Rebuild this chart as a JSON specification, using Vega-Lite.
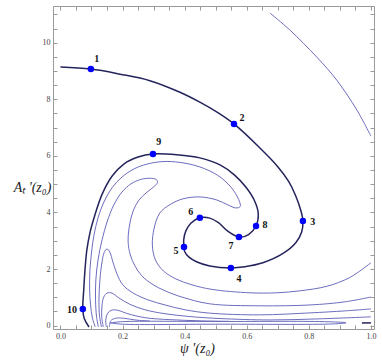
{
  "$schema": "https://vega.github.io/schema/vega-lite/v6.json",
  "width": 321,
  "height": 323,
  "autosize": "none",
  "padding": {"left": 53, "top": 6, "right": 8, "bottom": 34},
  "background": "white",
  "config": {
    "view": {"stroke": "#9a9a9a", "strokeWidth": 1},
    "axis": {
      "domain": false,
      "grid": false,
      "tickColor": "#9a9a9a",
      "tickSize": -4,
      "labelPadding": 7,
      "labelFont": "Liberation Serif",
      "labelFontSize": 8,
      "labelColor": "#444444",
      "titleFont": "Liberation Serif",
      "titleFontStyle": "italic",
      "titleFontWeight": "normal",
      "titleFontSize": 14,
      "titleColor": "#222222"
    }
  },
  "datasets": {
    "curves": [
      {"id": "D", "kind": "main", "x": 0.000, "y": 9.14},
      {"id": "D", "kind": "main", "x": 0.098, "y": 9.07},
      {"id": "D", "kind": "main", "x": 0.192, "y": 8.89},
      {"id": "D", "kind": "main", "x": 0.288, "y": 8.66},
      {"id": "D", "kind": "main", "x": 0.385, "y": 8.25},
      {"id": "D", "kind": "main", "x": 0.449, "y": 7.90},
      {"id": "D", "kind": "main", "x": 0.507, "y": 7.53},
      {"id": "D", "kind": "main", "x": 0.559, "y": 7.13},
      {"id": "D", "kind": "main", "x": 0.636, "y": 6.35},
      {"id": "D", "kind": "main", "x": 0.700, "y": 5.62},
      {"id": "D", "kind": "main", "x": 0.735, "y": 5.10},
      {"id": "D", "kind": "main", "x": 0.757, "y": 4.61},
      {"id": "D", "kind": "main", "x": 0.774, "y": 4.08},
      {"id": "D", "kind": "main", "x": 0.781, "y": 3.70},
      {"id": "D", "kind": "main", "x": 0.777, "y": 3.31},
      {"id": "D", "kind": "main", "x": 0.758, "y": 2.93},
      {"id": "D", "kind": "main", "x": 0.717, "y": 2.55},
      {"id": "D", "kind": "main", "x": 0.652, "y": 2.22},
      {"id": "D", "kind": "main", "x": 0.594, "y": 2.08},
      {"id": "D", "kind": "main", "x": 0.549, "y": 2.04},
      {"id": "D", "kind": "main", "x": 0.481, "y": 2.11},
      {"id": "D", "kind": "main", "x": 0.440, "y": 2.25},
      {"id": "D", "kind": "main", "x": 0.414, "y": 2.42},
      {"id": "D", "kind": "main", "x": 0.400, "y": 2.62},
      {"id": "D", "kind": "main", "x": 0.398, "y": 2.78},
      {"id": "D", "kind": "main", "x": 0.397, "y": 3.03},
      {"id": "D", "kind": "main", "x": 0.404, "y": 3.35},
      {"id": "D", "kind": "main", "x": 0.420, "y": 3.62},
      {"id": "D", "kind": "main", "x": 0.449, "y": 3.81},
      {"id": "D", "kind": "main", "x": 0.481, "y": 3.80},
      {"id": "D", "kind": "main", "x": 0.509, "y": 3.64},
      {"id": "D", "kind": "main", "x": 0.540, "y": 3.33},
      {"id": "D", "kind": "main", "x": 0.575, "y": 3.13},
      {"id": "D", "kind": "main", "x": 0.606, "y": 3.22},
      {"id": "D", "kind": "main", "x": 0.630, "y": 3.52},
      {"id": "D", "kind": "main", "x": 0.637, "y": 3.98},
      {"id": "D", "kind": "main", "x": 0.624, "y": 4.44},
      {"id": "D", "kind": "main", "x": 0.597, "y": 4.90},
      {"id": "D", "kind": "main", "x": 0.560, "y": 5.33},
      {"id": "D", "kind": "main", "x": 0.514, "y": 5.68},
      {"id": "D", "kind": "main", "x": 0.449, "y": 5.93},
      {"id": "D", "kind": "main", "x": 0.375, "y": 6.04},
      {"id": "D", "kind": "main", "x": 0.298, "y": 6.07},
      {"id": "D", "kind": "main", "x": 0.250, "y": 5.96},
      {"id": "D", "kind": "main", "x": 0.205, "y": 5.72},
      {"id": "D", "kind": "main", "x": 0.166, "y": 5.28},
      {"id": "D", "kind": "main", "x": 0.134, "y": 4.64},
      {"id": "D", "kind": "main", "x": 0.111, "y": 3.91},
      {"id": "D", "kind": "main", "x": 0.095, "y": 3.28},
      {"id": "D", "kind": "main", "x": 0.085, "y": 2.67},
      {"id": "D", "kind": "main", "x": 0.079, "y": 1.97},
      {"id": "D", "kind": "main", "x": 0.075, "y": 1.26},
      {"id": "D", "kind": "main", "x": 0.072, "y": 0.59},
      {"id": "D", "kind": "main", "x": 0.077, "y": 0.24},
      {"id": "D", "kind": "main", "x": 0.092, "y": -0.05},

      {"id": "E", "kind": "main", "x": 0.971, "y": 0.095},
      {"id": "E", "kind": "main", "x": 1.000, "y": 0.095},

      {"id": "L1", "kind": "other", "x": 0.675, "y": 11.05},
      {"id": "L1", "kind": "other", "x": 0.739, "y": 10.45},
      {"id": "L1", "kind": "other", "x": 0.826, "y": 9.49},
      {"id": "L1", "kind": "other", "x": 0.890, "y": 8.68},
      {"id": "L1", "kind": "other", "x": 0.955, "y": 7.62},
      {"id": "L1", "kind": "other", "x": 1.000, "y": 6.70},

      {"id": "A", "kind": "other", "x": 0.112, "y": -0.05},
      {"id": "A", "kind": "other", "x": 0.103, "y": 0.27},
      {"id": "A", "kind": "other", "x": 0.097, "y": 0.73},
      {"id": "A", "kind": "other", "x": 0.094, "y": 1.26},
      {"id": "A", "kind": "other", "x": 0.095, "y": 1.97},
      {"id": "A", "kind": "other", "x": 0.101, "y": 2.67},
      {"id": "A", "kind": "other", "x": 0.108, "y": 3.20},
      {"id": "A", "kind": "other", "x": 0.121, "y": 3.81},
      {"id": "A", "kind": "other", "x": 0.140, "y": 4.37},
      {"id": "A", "kind": "other", "x": 0.166, "y": 4.87},
      {"id": "A", "kind": "other", "x": 0.198, "y": 5.25},
      {"id": "A", "kind": "other", "x": 0.237, "y": 5.54},
      {"id": "A", "kind": "other", "x": 0.279, "y": 5.71},
      {"id": "A", "kind": "other", "x": 0.330, "y": 5.80},
      {"id": "A", "kind": "other", "x": 0.385, "y": 5.77},
      {"id": "A", "kind": "other", "x": 0.449, "y": 5.61},
      {"id": "A", "kind": "other", "x": 0.507, "y": 5.31},
      {"id": "A", "kind": "other", "x": 0.549, "y": 4.90},
      {"id": "A", "kind": "other", "x": 0.574, "y": 4.46},
      {"id": "A", "kind": "other", "x": 0.579, "y": 4.21},
      {"id": "A", "kind": "other", "x": 0.565, "y": 4.16},
      {"id": "A", "kind": "other", "x": 0.539, "y": 4.27},
      {"id": "A", "kind": "other", "x": 0.504, "y": 4.44},
      {"id": "A", "kind": "other", "x": 0.449, "y": 4.55},
      {"id": "A", "kind": "other", "x": 0.394, "y": 4.48},
      {"id": "A", "kind": "other", "x": 0.353, "y": 4.28},
      {"id": "A", "kind": "other", "x": 0.320, "y": 3.98},
      {"id": "A", "kind": "other", "x": 0.302, "y": 3.45},
      {"id": "A", "kind": "other", "x": 0.296, "y": 2.85},
      {"id": "A", "kind": "other", "x": 0.306, "y": 2.32},
      {"id": "A", "kind": "other", "x": 0.332, "y": 1.93},
      {"id": "A", "kind": "other", "x": 0.372, "y": 1.65},
      {"id": "A", "kind": "other", "x": 0.424, "y": 1.44},
      {"id": "A", "kind": "other", "x": 0.488, "y": 1.28},
      {"id": "A", "kind": "other", "x": 0.610, "y": 1.16},
      {"id": "A", "kind": "other", "x": 0.697, "y": 1.16},
      {"id": "A", "kind": "other", "x": 0.771, "y": 1.23},
      {"id": "A", "kind": "other", "x": 0.858, "y": 1.39},
      {"id": "A", "kind": "other", "x": 0.932, "y": 1.70},
      {"id": "A", "kind": "other", "x": 1.000, "y": 2.22},

      {"id": "B", "kind": "other", "x": 0.122, "y": -0.05},
      {"id": "B", "kind": "other", "x": 0.116, "y": 0.34},
      {"id": "B", "kind": "other", "x": 0.113, "y": 0.91},
      {"id": "B", "kind": "other", "x": 0.114, "y": 1.61},
      {"id": "B", "kind": "other", "x": 0.121, "y": 2.32},
      {"id": "B", "kind": "other", "x": 0.134, "y": 3.03},
      {"id": "B", "kind": "other", "x": 0.150, "y": 3.66},
      {"id": "B", "kind": "other", "x": 0.172, "y": 4.27},
      {"id": "B", "kind": "other", "x": 0.198, "y": 4.72},
      {"id": "B", "kind": "other", "x": 0.227, "y": 5.01},
      {"id": "B", "kind": "other", "x": 0.259, "y": 5.17},
      {"id": "B", "kind": "other", "x": 0.290, "y": 5.21},
      {"id": "B", "kind": "other", "x": 0.308, "y": 5.17},
      {"id": "B", "kind": "other", "x": 0.313, "y": 5.08},
      {"id": "B", "kind": "other", "x": 0.304, "y": 4.94},
      {"id": "B", "kind": "other", "x": 0.279, "y": 4.72},
      {"id": "B", "kind": "other", "x": 0.253, "y": 4.44},
      {"id": "B", "kind": "other", "x": 0.234, "y": 4.05},
      {"id": "B", "kind": "other", "x": 0.222, "y": 3.52},
      {"id": "B", "kind": "other", "x": 0.218, "y": 2.96},
      {"id": "B", "kind": "other", "x": 0.225, "y": 2.50},
      {"id": "B", "kind": "other", "x": 0.240, "y": 2.11},
      {"id": "B", "kind": "other", "x": 0.262, "y": 1.76},
      {"id": "B", "kind": "other", "x": 0.295, "y": 1.47},
      {"id": "B", "kind": "other", "x": 0.337, "y": 1.23},
      {"id": "B", "kind": "other", "x": 0.391, "y": 1.01},
      {"id": "B", "kind": "other", "x": 0.481, "y": 0.77},
      {"id": "B", "kind": "other", "x": 0.642, "y": 0.70},
      {"id": "B", "kind": "other", "x": 0.804, "y": 0.73},
      {"id": "B", "kind": "other", "x": 0.916, "y": 0.84},
      {"id": "B", "kind": "other", "x": 1.000, "y": 1.01},

      {"id": "P1", "kind": "other", "x": 0.132, "y": -0.05},
      {"id": "P1", "kind": "other", "x": 0.126, "y": 0.34},
      {"id": "P1", "kind": "other", "x": 0.124, "y": 0.91},
      {"id": "P1", "kind": "other", "x": 0.127, "y": 1.61},
      {"id": "P1", "kind": "other", "x": 0.134, "y": 2.25},
      {"id": "P1", "kind": "other", "x": 0.141, "y": 2.59},
      {"id": "P1", "kind": "other", "x": 0.150, "y": 2.71},
      {"id": "P1", "kind": "other", "x": 0.159, "y": 2.60},
      {"id": "P1", "kind": "other", "x": 0.169, "y": 2.25},
      {"id": "P1", "kind": "other", "x": 0.182, "y": 1.83},
      {"id": "P1", "kind": "other", "x": 0.201, "y": 1.44},
      {"id": "P1", "kind": "other", "x": 0.233, "y": 1.16},
      {"id": "P1", "kind": "other", "x": 0.282, "y": 0.91},
      {"id": "P1", "kind": "other", "x": 0.337, "y": 0.73},
      {"id": "P1", "kind": "other", "x": 0.401, "y": 0.56},
      {"id": "P1", "kind": "other", "x": 0.481, "y": 0.44},
      {"id": "P1", "kind": "other", "x": 0.642, "y": 0.38},
      {"id": "P1", "kind": "other", "x": 0.804, "y": 0.45},
      {"id": "P1", "kind": "other", "x": 0.916, "y": 0.52},
      {"id": "P1", "kind": "other", "x": 1.000, "y": 0.59},

      {"id": "P2", "kind": "other", "x": 0.138, "y": -0.05},
      {"id": "P2", "kind": "other", "x": 0.133, "y": 0.30},
      {"id": "P2", "kind": "other", "x": 0.134, "y": 0.73},
      {"id": "P2", "kind": "other", "x": 0.140, "y": 1.02},
      {"id": "P2", "kind": "other", "x": 0.150, "y": 1.15},
      {"id": "P2", "kind": "other", "x": 0.166, "y": 1.15},
      {"id": "P2", "kind": "other", "x": 0.188, "y": 0.98},
      {"id": "P2", "kind": "other", "x": 0.224, "y": 0.75},
      {"id": "P2", "kind": "other", "x": 0.272, "y": 0.56},
      {"id": "P2", "kind": "other", "x": 0.337, "y": 0.42},
      {"id": "P2", "kind": "other", "x": 0.417, "y": 0.32},
      {"id": "P2", "kind": "other", "x": 0.514, "y": 0.25},
      {"id": "P2", "kind": "other", "x": 0.675, "y": 0.20},
      {"id": "P2", "kind": "other", "x": 0.836, "y": 0.24},
      {"id": "P2", "kind": "other", "x": 1.000, "y": 0.31},

      {"id": "P3", "kind": "other", "x": 0.148, "y": -0.05},
      {"id": "P3", "kind": "other", "x": 0.146, "y": 0.20},
      {"id": "P3", "kind": "other", "x": 0.153, "y": 0.45},
      {"id": "P3", "kind": "other", "x": 0.166, "y": 0.55},
      {"id": "P3", "kind": "other", "x": 0.185, "y": 0.54},
      {"id": "P3", "kind": "other", "x": 0.217, "y": 0.42},
      {"id": "P3", "kind": "other", "x": 0.272, "y": 0.28},
      {"id": "P3", "kind": "other", "x": 0.353, "y": 0.21},
      {"id": "P3", "kind": "other", "x": 0.449, "y": 0.17},
      {"id": "P3", "kind": "other", "x": 0.547, "y": 0.15},

      {"id": "P4", "kind": "other", "x": 0.158, "y": -0.05},
      {"id": "P4", "kind": "other", "x": 0.162, "y": 0.17},
      {"id": "P4", "kind": "other", "x": 0.178, "y": 0.26},
      {"id": "P4", "kind": "other", "x": 0.204, "y": 0.26},
      {"id": "P4", "kind": "other", "x": 0.240, "y": 0.20},
      {"id": "P4", "kind": "other", "x": 0.288, "y": 0.16},

      {"id": "Q", "kind": "other", "x": 0.160, "y": 0.095},
      {"id": "Q", "kind": "other", "x": 0.200, "y": 0.14},
      {"id": "Q", "kind": "other", "x": 0.500, "y": 0.145},
      {"id": "Q", "kind": "other", "x": 0.850, "y": 0.14},
      {"id": "Q", "kind": "other", "x": 0.920, "y": 0.10},
      {"id": "Q", "kind": "other", "x": 0.880, "y": 0.06},
      {"id": "Q", "kind": "other", "x": 0.500, "y": 0.05},
      {"id": "Q", "kind": "other", "x": 0.200, "y": 0.05},
      {"id": "Q", "kind": "other", "x": 0.160, "y": 0.095}
    ],
    "points": [
      {"label": "1", "x": 0.098, "y": 9.07, "lx": 0.117, "ly": 9.42},
      {"label": "2", "x": 0.559, "y": 7.13, "lx": 0.585, "ly": 7.34},
      {"label": "3", "x": 0.781, "y": 3.70, "lx": 0.813, "ly": 3.66},
      {"label": "4", "x": 0.549, "y": 2.04, "lx": 0.575, "ly": 1.65},
      {"label": "5", "x": 0.398, "y": 2.78, "lx": 0.372, "ly": 2.64},
      {"label": "6", "x": 0.449, "y": 3.81, "lx": 0.420, "ly": 4.02},
      {"label": "7", "x": 0.575, "y": 3.13, "lx": 0.549, "ly": 2.82},
      {"label": "8", "x": 0.630, "y": 3.52, "lx": 0.659, "ly": 3.56},
      {"label": "9", "x": 0.298, "y": 6.07, "lx": 0.317, "ly": 6.49},
      {"label": "10", "x": 0.072, "y": 0.59, "lx": 0.037, "ly": 0.55}
    ]
  },
  "resolve": {"axis": {"x": "independent", "y": "independent"}},
  "layer": [
    {
      "data": {"name": "curves"},
      "mark": {"type": "line", "interpolate": "catmull-rom", "strokeJoin": "round", "clip": true},
      "encoding": {
        "x": {
          "field": "x", "type": "quantitative",
          "scale": {"domain": [-0.024, 1.01], "nice": false, "zero": false},
          "axis": {
            "orient": "bottom",
            "values": [0, 0.05, 0.1, 0.15, 0.2, 0.25, 0.3, 0.35, 0.4, 0.45, 0.5, 0.55, 0.6, 0.65, 0.7, 0.75, 0.8, 0.85, 0.9, 0.95, 1.0],
            "labelExpr": "abs(round(datum.value*20)) % 4 == 0 ? format(datum.value, '.1f') : ''",
            "title": "ψ '(z₀)",
            "titleX": 144,
            "titleY": 23,
            "titleAlign": "center",
            "titleBaseline": "alphabetic"
          }
        },
        "y": {
          "field": "y", "type": "quantitative",
          "scale": {"domain": [-0.12, 11.3], "nice": false, "zero": false},
          "axis": {
            "orient": "left",
            "values": [0, 0.5, 1, 1.5, 2, 2.5, 3, 3.5, 4, 4.5, 5, 5.5, 6, 6.5, 7, 7.5, 8, 8.5, 9, 9.5, 10, 10.5, 11],
            "labelExpr": "round(datum.value*2) % 4 == 0 ? format(datum.value, 'd') : ''",
            "title": "Aₜ '(z₀)",
            "titleAngle": 0,
            "titleX": -21,
            "titleY": 181,
            "titleAlign": "center",
            "titleBaseline": "middle"
          }
        },
        "detail": {"field": "id"},
        "order": {"value": null},
        "color": {"field": "kind", "type": "nominal", "scale": {"domain": ["main", "other"], "range": ["#24245c", "#6d6dbf"]}, "legend": null},
        "strokeWidth": {"field": "kind", "type": "nominal", "scale": {"domain": ["main", "other"], "range": [1.5, 1]}, "legend": null}
      }
    },
    {
      "data": {"name": "points"},
      "mark": {"type": "point", "filled": true, "size": 42, "color": "#0000ff", "opacity": 1},
      "encoding": {
        "x": {
          "field": "x", "type": "quantitative",
          "scale": {"domain": [-0.024, 1.01], "nice": false, "zero": false},
          "axis": {
            "orient": "top",
            "values": [0, 0.05, 0.1, 0.15, 0.2, 0.25, 0.3, 0.35, 0.4, 0.45, 0.5, 0.55, 0.6, 0.65, 0.7, 0.75, 0.8, 0.85, 0.9, 0.95, 1.0],
            "labels": false,
            "title": null
          }
        },
        "y": {
          "field": "y", "type": "quantitative",
          "scale": {"domain": [-0.12, 11.3], "nice": false, "zero": false},
          "axis": {
            "orient": "right",
            "values": [0, 0.5, 1, 1.5, 2, 2.5, 3, 3.5, 4, 4.5, 5, 5.5, 6, 6.5, 7, 7.5, 8, 8.5, 9, 9.5, 10, 10.5, 11],
            "labels": false,
            "title": null
          }
        }
      }
    },
    {
      "data": {"name": "points"},
      "mark": {"type": "text", "font": "Liberation Serif", "fontWeight": "bold", "fontSize": 10, "color": "#111111", "align": "center", "baseline": "middle"},
      "encoding": {
        "x": {"field": "lx", "type": "quantitative", "scale": {"domain": [-0.024, 1.01], "nice": false, "zero": false}, "axis": null},
        "y": {"field": "ly", "type": "quantitative", "scale": {"domain": [-0.12, 11.3], "nice": false, "zero": false}, "axis": null},
        "text": {"field": "label"}
      }
    }
  ]
}
